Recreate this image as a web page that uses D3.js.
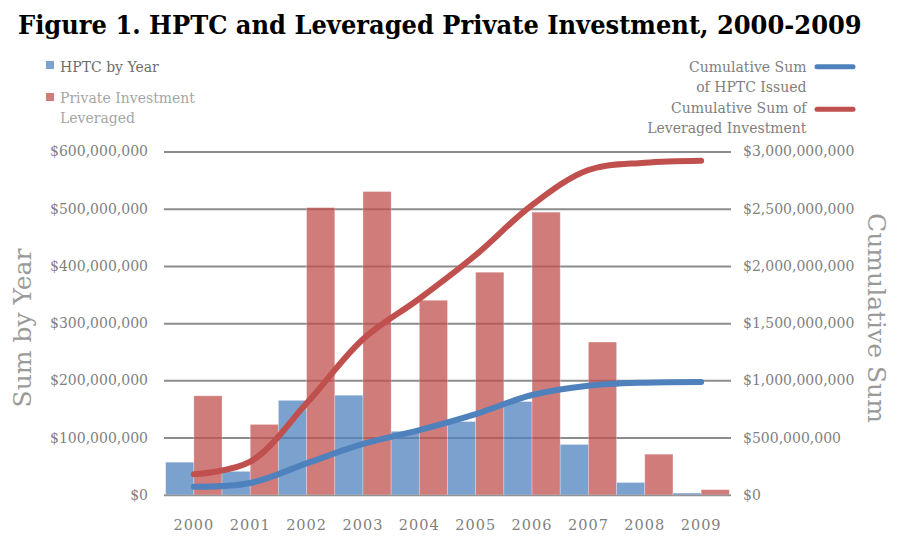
<!DOCTYPE html>
<html>
<head>
<meta charset="utf-8">
<script src="https://cdn.jsdelivr.net/npm/d3@7"></script>
<style>
  html, body { margin: 0; padding: 0; background: #fff; }
  svg text { font-family: 'DejaVu Serif', 'Liberation Serif', serif; }
</style>
</head>
<body>
<svg id="chart" width="904" height="542"></svg>
<script>
(function () {
  'use strict';

  // values in millions of dollars
  var years = ['2000', '2001', '2002', '2003', '2004', '2005', '2006', '2007', '2008', '2009'];
  var hptcByYear = [57, 41, 165, 174, 111, 128, 163, 88, 21.5, 3];
  var privateLeveraged = [173, 123, 502, 530, 340, 389, 494, 267, 71, 9];
  var cumulativeHptc = [71, 103, 275, 444, 566, 706, 872, 953, 980, 986];
  var cumulativeLeveraged = [179, 289, 800, 1360, 1713, 2095, 2532, 2838, 2902, 2920];
  var leftTicks = [0, 100, 200, 300, 400, 500, 600];
  var rightTicks = [0, 500, 1000, 1500, 2000, 2500, 3000];

  var blue = '#4F81BD';
  var red = '#C0504D';
  var grid = '#8c8c8c';

  var svg = d3.select('#chart');
  var left = 164, right = 731, top = 151.5, bottom = 494.8;

  var x = d3.scaleBand()
      .domain(years)
      .range([left, right])
      .paddingInner(0)
      .paddingOuter(0.03);
  var x1 = d3.scaleBand()
      .domain(['hptc', 'priv'])
      .range([0, x.bandwidth()]);
  var yLeft = d3.scaleLinear().domain([0, 600]).range([bottom, top]);
  var yRight = d3.scaleLinear().domain([0, 3000]).range([bottom, top]);
  var money = d3.format('$,');

  // title, fitted to the width it has in the figure
  var title = svg.append('text')
      .attr('x', 18)
      .attr('y', 34)
      .style('font-family', "'DejaVu Serif Condensed', 'DejaVu Serif', serif")
      .style('font-weight', 'bold')
      .style('font-size', '25px')
      .attr('fill', '#000')
      .text('Figure 1. HPTC and Leveraged Private Investment, 2000-2009');
  var tw = title.node().getComputedTextLength();
  title.style('font-size', (25 * 844 / tw).toFixed(2) + 'px');

  // left axis + gridlines
  var gl = svg.append('g')
      .attr('transform', 'translate(' + left + ',0)')
      .call(d3.axisLeft(yLeft)
        .tickValues(leftTicks)
        .tickSize(-(right - left))
        .tickPadding(16)
        .tickFormat(function(d) { return money(d * 1e6); }));
  gl.select('.domain').remove();
  gl.selectAll('.tick line').attr('stroke', grid).attr('stroke-width', 2);
  gl.selectAll('.tick text')
    .attr('fill', '#7f7f7f')
    .style('font-family', "'DejaVu Serif', serif")
    .style('font-size', '14px');

  // right axis labels
  var gr = svg.append('g')
      .attr('transform', 'translate(' + right + ',0)')
      .call(d3.axisRight(yRight)
        .tickValues(rightTicks)
        .tickSize(0)
        .tickPadding(12)
        .tickFormat(function(d) { return money(d * 1e6); }));
  gr.select('.domain').remove();
  gr.selectAll('.tick text')
    .attr('fill', '#7f7f7f')
    .style('font-family', "'DejaVu Serif', serif")
    .style('font-size', '14px');

  // bottom labels
  var gx = svg.append('g')
      .attr('transform', 'translate(0,' + bottom + ')')
      .call(d3.axisBottom(x).tickSize(0).tickPadding(25));
  gx.select('.domain').remove();
  gx.selectAll('.tick text')
    .attr('fill', '#7f7f7f')
    .style('font-family', "'DejaVu Serif', serif")
    .style('font-size', '14.5px')
    .style('letter-spacing', '1px');

  // bars (semi transparent, grid shows through)
  var groups = svg.append('g')
      .selectAll('g')
      .data(years)
      .enter()
      .append('g')
      .attr('transform', function(d) { return 'translate(' + x(d) + ',0)'; });

  groups.append('rect')
    .attr('x', x1('hptc'))
    .attr('width', x1.bandwidth())
    .attr('y', function(d, i) { return yLeft(hptcByYear[i]); })
    .attr('height', function(d, i) { return bottom - yLeft(hptcByYear[i]); })
    .attr('fill', blue)
    .attr('fill-opacity', 0.75)
    .attr('stroke', '#fff')
    .attr('stroke-opacity', 0.35)
    .attr('stroke-width', 0.8);

  groups.append('rect')
    .attr('x', x1('priv'))
    .attr('width', x1.bandwidth())
    .attr('y', function(d, i) { return yLeft(privateLeveraged[i]); })
    .attr('height', function(d, i) { return bottom - yLeft(privateLeveraged[i]); })
    .attr('fill', red)
    .attr('fill-opacity', 0.75)
    .attr('stroke', '#fff')
    .attr('stroke-opacity', 0.35)
    .attr('stroke-width', 0.8);

  // smoothed cumulative lines
  var line = d3.line()
      .x(function(d, i) { return x(years[i]) + x.bandwidth() / 2; })
      .y(function(d) { return yRight(d); })
      .curve(d3.curveCatmullRom.alpha(0.5));

  svg.append('path')
    .datum(cumulativeHptc)
    .attr('d', line)
    .attr('fill', 'none')
    .attr('stroke', blue)
    .attr('stroke-width', 6)
    .attr('stroke-linecap', 'round');

  svg.append('path')
    .datum(cumulativeLeveraged)
    .attr('d', line)
    .attr('fill', 'none')
    .attr('stroke', red)
    .attr('stroke-width', 6)
    .attr('stroke-linecap', 'round');

  // axis titles
  svg.append('text')
    .attr('transform', 'translate(31,328) rotate(-90)')
    .attr('text-anchor', 'middle')
    .attr('fill', '#9a9a9a')
    .style('font-size', '25px')
    .text('Sum by Year');

  svg.append('text')
    .attr('transform', 'translate(868,318) rotate(90)')
    .attr('text-anchor', 'middle')
    .attr('fill', '#9a9a9a')
    .style('font-size', '25px')
    .text('Cumulative Sum');

  // legend, left side
  var legLeft = svg.append('g').style('font-size', '14px');
  legLeft.append('rect')
    .attr('x', 46).attr('y', 61).attr('width', 8).attr('height', 8)
    .attr('fill', blue).attr('fill-opacity', 0.75);
  legLeft.append('text')
    .attr('x', 60).attr('y', 71.7)
    .attr('fill', '#6e6e6e')
    .text('HPTC by Year');
  legLeft.append('rect')
    .attr('x', 46).attr('y', 93).attr('width', 8).attr('height', 8)
    .attr('fill', red).attr('fill-opacity', 0.75);
  legLeft.append('text')
    .attr('x', 60).attr('y', 103.3)
    .attr('fill', '#a6a6a6')
    .text('Private Investment');
  legLeft.append('text')
    .attr('x', 60).attr('y', 123.3)
    .attr('fill', '#a6a6a6')
    .text('Leveraged');

  // legend, right side
  var legRight = svg.append('g')
      .style('font-size', '14px')
      .attr('fill', '#808080')
      .attr('text-anchor', 'end');
  legRight.append('text').attr('x', 806.5).attr('y', 71.7).text('Cumulative Sum');
  legRight.append('text').attr('x', 806.5).attr('y', 91.7).text('of HPTC Issued');
  legRight.append('text').attr('x', 806.5).attr('y', 113.3).text('Cumulative Sum of');
  legRight.append('text').attr('x', 806.5).attr('y', 133.3).text('Leveraged Investment');
  legRight.append('line')
    .attr('x1', 817).attr('x2', 853).attr('y1', 66.7).attr('y2', 66.7)
    .attr('stroke', blue).attr('stroke-width', 5).attr('stroke-linecap', 'round');
  legRight.append('line')
    .attr('x1', 817).attr('x2', 853).attr('y1', 109.3).attr('y2', 109.3)
    .attr('stroke', red).attr('stroke-width', 5).attr('stroke-linecap', 'round');
}());
</script>
</body>
</html>
